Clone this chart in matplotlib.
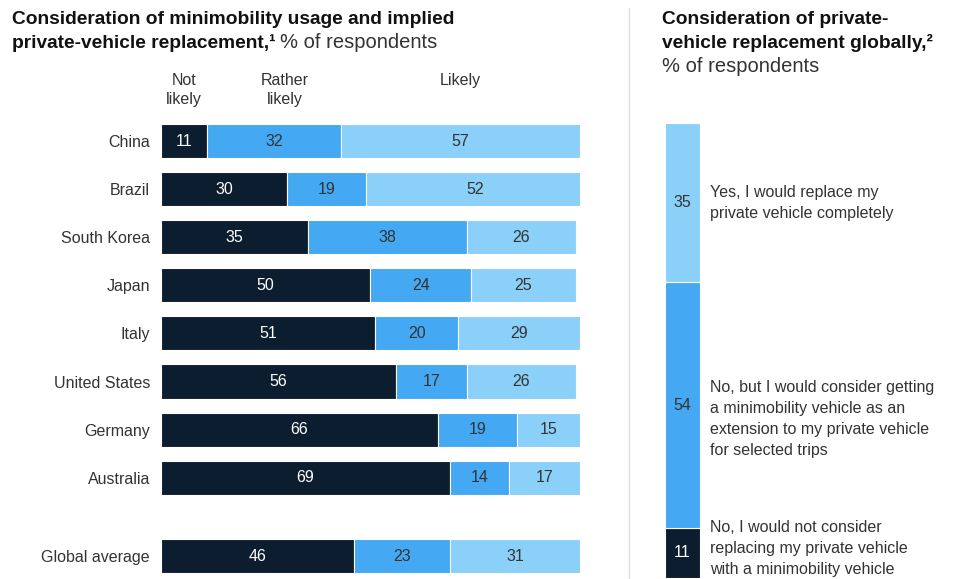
import matplotlib.pyplot as plt

plt.rcParams['font.family'] = ['Liberation Sans', 'DejaVu Sans']

# Left panel: minimobility usage by country
countries = ['China', 'Brazil', 'South Korea', 'Japan', 'Italy', 'United States',
             'Germany', 'Australia', 'Global average']
not_likely = [11, 30, 35, 50, 51, 56, 66, 69, 46]
rather_likely = [32, 19, 38, 24, 20, 17, 19, 14, 23]
likely = [57, 52, 26, 25, 29, 26, 15, 17, 31]
headers = ['Not\nlikely', 'Rather\nlikely', 'Likely']

# Right panel: private-vehicle replacement (bottom to top)
replace_values = [11, 54, 35]
replace_labels = [
    'No, I would not consider\nreplacing my private vehicle\nwith a minimobility vehicle',
    'No, but I would consider getting\na minimobility vehicle as an\nextension to my private vehicle\nfor selected trips',
    'Yes, I would replace my\nprivate vehicle completely',
]

navy = '#0b1d2e'
mid = '#44a8f3'
light = '#8ad0f9'
text_dark = '#333333'

W, H = 954, 579
fig = plt.figure(figsize=(W / 100, H / 100), dpi=100)


def box(x0, y0, x1, y1):
    return [x0 / W, 1 - y1 / H, (x1 - x0) / W, (y1 - y0) / H]


def ftext(x, y, s, **kw):
    return fig.text(x / W, 1 - y / H, s, **kw)


# ---- left: stacked horizontal bars ----
ax = fig.add_axes(box(161, 100, 580, 579))
rows = list(range(8)) + [8.63]
step = 48.1
ax.set_ylim((579 - 141) / step, (100 - 141) / step)
ax.set_xlim(0, 100)

left = [0] * len(countries)
for vals, col, tcol in [(not_likely, navy, 'white'),
                        (rather_likely, mid, text_dark),
                        (likely, light, text_dark)]:
    bars = ax.barh(rows, vals, left=left, height=0.71, color=col,
                   edgecolor='white', linewidth=0.8)
    for b, v in zip(bars, vals):
        ax.text(b.get_x() + b.get_width() / 2, b.get_y() + b.get_height() / 2,
                str(v), ha='center', va='center', color=tcol, fontsize=11.5)
    left = [l + v for l, v in zip(left, vals)]

ax.set_yticks(rows, countries, fontsize=11.5, color=text_dark)
ax.tick_params(axis='y', length=0, pad=8)
ax.set_xticks([])
for s in ax.spines.values():
    s.set_visible(False)

# column headers, top-aligned
for hx, h in zip([5.5, 29.5, 71.5], headers):
    ftext(161 + hx * 4.19, 73, h, ha='center', va='top', fontsize=11.5,
          color=text_dark, linespacing=1.3)

# ---- right: single vertical stacked bar ----
ax2 = fig.add_axes(box(665, 123, 700, 578))
ax2.set_xlim(0, 1)
ax2.set_ylim(0, 100)
label_shift = [4, -14, 0]  # vertical nudge of each note, in pixels
bottom = 0
for v, col, tcol, lab, dy in zip(replace_values, [navy, mid, light],
                                 ['white', text_dark, text_dark],
                                 replace_labels, label_shift):
    ax2.bar(0.5, v, bottom=bottom, width=1, color=col, edgecolor='white',
            linewidth=0.8)
    ax2.text(0.5, bottom + v / 2, str(v), ha='center', va='center',
             color=tcol, fontsize=11.5)
    ax2.annotate(lab, (1.3, bottom + v / 2), xytext=(0, dy),
                 textcoords='offset pixels', ha='left', va='center',
                 fontsize=11.5, color=text_dark, linespacing=1.5,
                 annotation_clip=False)
    bottom += v
ax2.axis('off')

# divider
fig.add_artist(plt.Line2D([629 / W, 629 / W], [0, 1 - 8 / H],
                          color='#dddddd', linewidth=1))

# ---- titles ----
ftext(12, 19, 'Consideration of minimobility usage and implied',
      fontsize=13.8, fontweight='bold', va='center', color='#111111')
t = ftext(12, 43, 'private-vehicle replacement,\u00b9', fontsize=13.8,
          fontweight='bold', va='center', color='#111111')
fig.canvas.draw()
ext = t.get_window_extent()
fig.text(ext.x1 / W + 4 / W, 1 - 43 / H, '% of respondents', fontsize=14.5,
         va='center', color=text_dark)

ftext(662, 19, 'Consideration of private-', fontsize=13.8, fontweight='bold',
      va='center', color='#111111')
ftext(662, 43, 'vehicle replacement globally,\u00b2', fontsize=13.8,
      fontweight='bold', va='center', color='#111111')
ftext(662, 67, '% of respondents', fontsize=14.5, va='center', color=text_dark)

fig.savefig('out.png', dpi=100)
